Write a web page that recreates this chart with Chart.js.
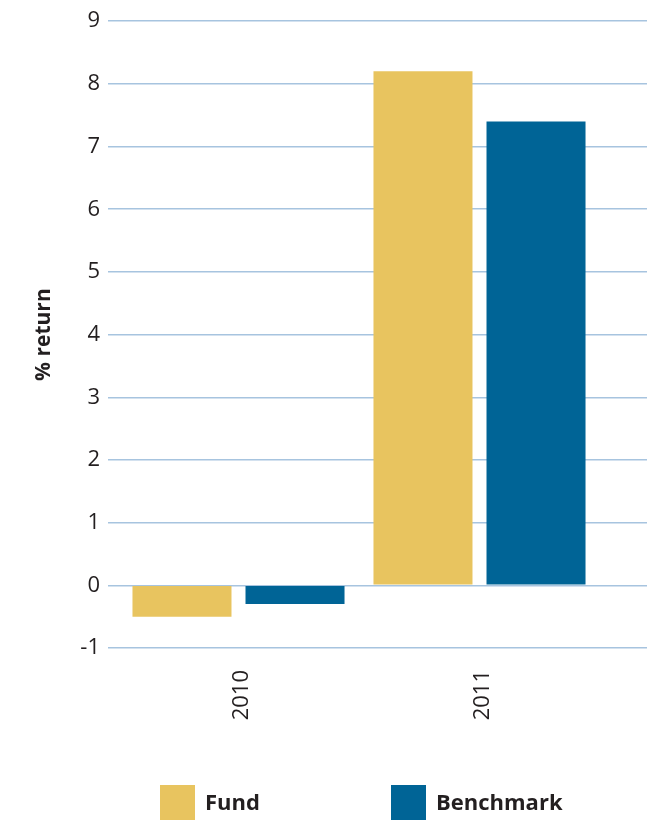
<!DOCTYPE html>
<html>
<head>
<meta charset="utf-8">
<title>Fund vs Benchmark – % return</title>
<script src="https://cdn.jsdelivr.net/npm/chart.js@4/dist/chart.umd.min.js"></script>
<style>
  html, body { margin: 0; padding: 0; background: #ffffff; }
  #wrap { width: 655px; height: 821px; position: relative; }
  canvas { display: block; }
</style>
</head>
<body>
<div id="wrap"><canvas id="returns" width="655" height="821"></canvas></div>
<script>
// Annual returns, in percent
const categories = ['2010', '2011'];
const fundReturns = [-0.5, 8.2];
const benchmarkReturns = [-0.3, 7.4];
const seriesNames = ['Fund', 'Benchmark'];

// Value axis range and step
const yMin = -1;
const yMax = 9;
const yStep = 1;

const FUND_COLOR = '#E8C45F';
const BENCH_COLOR = '#006496';
const GRID_COLOR = '#A7C4DF';
const TEXT_COLOR = '#231F20';
const FONT = '"Open Sans", "Noto Sans", sans-serif';

// Draws the series key below the plot: a square swatch and a bold name per dataset
const seriesKey = {
  id: 'seriesKey',
  afterDraw(chart, args, opts) {
    const { ctx } = chart;
    ctx.save();
    ctx.font = `bold ${opts.size}px ${FONT}`;
    ctx.textBaseline = 'middle';
    ctx.textAlign = 'left';
    chart.data.datasets.forEach((ds, i) => {
      const x = opts.left + i * opts.slot;
      ctx.fillStyle = ds.backgroundColor;
      ctx.fillRect(x, opts.top, opts.box, opts.box);
      ctx.fillStyle = TEXT_COLOR;
      ctx.fillText(ds.label, x + opts.box + opts.gap, opts.top + opts.box / 2 + 1);
    });
    ctx.restore();
  }
};

function draw() {
  const gridLine = { color: GRID_COLOR, lineWidth: 1.5 };

  new Chart(document.getElementById('returns'), {
    type: 'bar',
    data: {
      labels: categories,
      datasets: [
        { label: seriesNames[0], data: fundReturns, backgroundColor: FUND_COLOR },
        { label: seriesNames[1], data: benchmarkReturns, backgroundColor: BENCH_COLOR }
      ]
    },
    options: {
      responsive: false,
      animation: false,
      devicePixelRatio: 1,
      categoryPercentage: 0.938,
      barPercentage: 0.876,
      layout: { padding: { top: 18, right: 8, bottom: 0, left: 0 } },
      plugins: {
        legend: { display: false },
        tooltip: { enabled: false },
        seriesKey: { left: 160, top: 785, slot: 231, box: 35, gap: 10, size: 22 }
      },
      scales: {
        x: {
          offset: true,
          grid: { display: false },
          border: { display: false },
          ticks: {
            minRotation: 90,
            maxRotation: 90,
            padding: 14,
            labelOffset: 3,
            color: TEXT_COLOR,
            font: { family: FONT, size: 22 }
          },
          afterFit(scale) { scale.height = 173; }
        },
        y: {
          min: yMin,
          max: yMax,
          border: { display: false },
          grid: { ...gridLine, tickLength: 10, drawTicks: true },
          ticks: {
            stepSize: yStep,
            padding: 8,
            color: TEXT_COLOR,
            font: { family: FONT, size: 22 }
          },
          title: {
            display: true,
            text: '% return',
            color: TEXT_COLOR,
            font: { family: FONT, size: 21, weight: 'bold' },
            padding: { top: 31, bottom: 0 }
          },
          afterFit(scale) { scale.width = 118; }
        },
        // right-hand extension of the horizontal rules past the last category
        yRight: {
          position: 'right',
          display: true,
          min: yMin,
          max: yMax,
          border: { display: false },
          grid: { ...gridLine, drawOnChartArea: false, drawTicks: true, tickLength: 47 },
          ticks: { stepSize: yStep, display: false },
          afterFit(scale) { scale.width = 47; }
        }
      }
    },
    plugins: [seriesKey]
  });
}

const fontLoads = [
  '22px "Open Sans"',
  'bold 22px "Open Sans"'
].map(f => document.fonts.load(f).catch(() => null));
Promise.all(fontLoads).then(draw, draw);
</script>
</body>
</html>
